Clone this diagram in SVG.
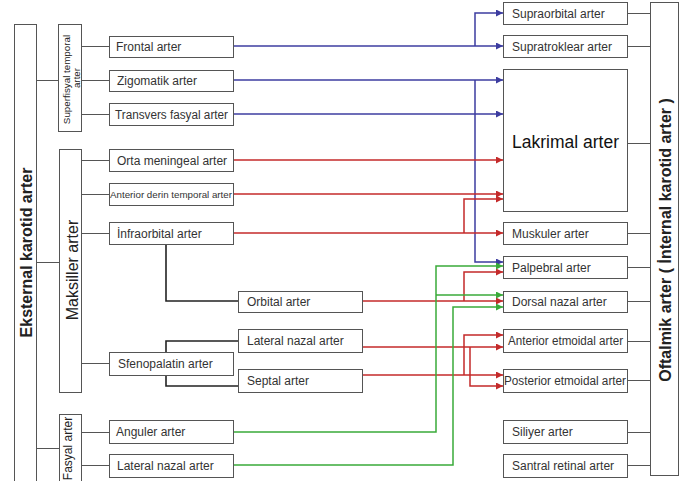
<svg xmlns="http://www.w3.org/2000/svg" width="694" height="481" viewBox="0 0 694 481">
<style>
.b{fill:#fff;stroke:#555;stroke-width:1}
.t{font-family:"Liberation Sans",Arial,sans-serif;font-size:12px;fill:#333}
.v{font-family:"Liberation Sans",Arial,sans-serif;fill:#222}
.g{fill:none;stroke:#555;stroke-width:1}
.k{fill:none;stroke:#222;stroke-width:1.6}
.bl{fill:none;stroke:#3c3ca0;stroke-width:1.5}
.rd{fill:none;stroke:#c42a2a;stroke-width:1.5}
.gr{fill:none;stroke:#3aaa3a;stroke-width:1.5}
</style>
<defs>
<marker id="ab" markerUnits="userSpaceOnUse" markerWidth="7" markerHeight="7" refX="7" refY="3.5" orient="auto"><path d="M0,0L7,3.5L0,7z" fill="#3c3ca0"/></marker>
<marker id="ar" markerUnits="userSpaceOnUse" markerWidth="7" markerHeight="7" refX="7" refY="3.5" orient="auto"><path d="M0,0L7,3.5L0,7z" fill="#c42a2a"/></marker>
<marker id="ag" markerUnits="userSpaceOnUse" markerWidth="7" markerHeight="7" refX="7" refY="3.5" orient="auto"><path d="M0,0L7,3.5L0,7z" fill="#3aaa3a"/></marker>
</defs>
<rect width="694" height="481" fill="#fff"/>
<g id="connectors">
<path class="g" d="M36,80.5H58M36,262.5H59M36,448.5H59M81,46.5H109M81,80.5H109M81,114.5H109M81,160.5H109M81,194.5H109M81,233.5H109M81,363.5H109M81,432.5H109M81,465.5H109"/>
<path class="g" d="M627,13.5H650M627,46.5H650M627,143.5H650M627,233.5H650M627,267.5H650M627,301.5H650M627,341.5H650M627,380.5H650M627,432.5H650M627,465.5H650"/>
<path class="k" d="M166,244V301H238M238,341H166V386H238"/>
<path class="bl" d="M233,46H503" marker-end="url(#ab)"/>
<path class="bl" d="M475,46V13H503" marker-end="url(#ab)"/>
<path class="bl" d="M233,80H503" marker-end="url(#ab)"/>
<path class="bl" d="M233,114H503" marker-end="url(#ab)"/>
<path class="bl" d="M475,80V262H503" marker-end="url(#ab)"/>
<path class="rd" d="M233,160H503" marker-end="url(#ar)"/>
<path class="rd" d="M233,194H503" marker-end="url(#ar)"/>
<path class="rd" d="M233,233H503" marker-end="url(#ar)"/>
<path class="rd" d="M464,233V199H503" marker-end="url(#ar)"/>
<path class="rd" d="M362,301H503" marker-end="url(#ar)"/>
<path class="rd" d="M464,301V272H503" marker-end="url(#ar)"/>
<path class="rd" d="M362,347H503" marker-end="url(#ar)"/>
<path class="rd" d="M470,347V386H503" marker-end="url(#ar)"/>
<path class="rd" d="M362,375H503" marker-end="url(#ar)"/>
<path class="rd" d="M464,375V335H503" marker-end="url(#ar)"/>
<path class="gr" d="M233,432H436V266H503" marker-end="url(#ag)"/>
<path class="gr" d="M436,295H503" marker-end="url(#ag)"/>
<path class="gr" d="M233,465H453V307H503" marker-end="url(#ag)"/>
</g>
<g id="eksternal"><rect class="b" x="14.5" y="24.5" width="22" height="470"/><text class="v" font-weight="bold" font-size="16" text-anchor="middle" transform="translate(31.5,252.5) rotate(-90)">Eksternal karotid arter</text></g>
<g id="superfisyal"><rect class="b" x="58.5" y="24.5" width="23" height="107"/><text class="v" font-size="9.8" text-anchor="middle" transform="translate(69.5,79.5) rotate(-90)">Superfisyal temporal</text><text class="v" font-size="9.8" text-anchor="middle" transform="translate(80,78) rotate(-90)">arter</text></g>
<g id="maksiller"><rect class="b" x="59.5" y="149.5" width="22" height="243"/><text class="v" font-size="16" text-anchor="middle" transform="translate(77.5,270) rotate(-90)">Maksiller arter</text></g>
<g id="fasyal"><rect class="b" x="59.5" y="414.5" width="22" height="80"/><text class="v" font-size="12" text-anchor="middle" transform="translate(72,448.5) rotate(-90)">Fasyal arter</text></g>
<g id="oftalmik"><rect class="b" x="650.5" y="2.5" width="28" height="473"/><text class="v" font-weight="bold" font-size="16" text-anchor="middle" transform="translate(671,240) rotate(-90)">Oftalmik arter ( İnternal karotid arter )</text></g>
<g id="frontal"><rect class="b" x="109.5" y="36.5" width="124" height="21"/><text class="t" x="116" y="51">Frontal arter</text></g>
<g id="zigomatik"><rect class="b" x="109.5" y="70.5" width="124" height="21"/><text class="t" x="117" y="85">Zigomatik arter</text></g>
<g id="transvers"><rect class="b" x="109.5" y="103.5" width="124" height="22"/><text class="t" x="115" y="119" textLength="113" lengthAdjust="spacingAndGlyphs">Transvers fasyal arter</text></g>
<g id="orta"><rect class="b" x="109.5" y="149.5" width="124" height="22"/><text class="t" x="117" y="165">Orta meningeal arter</text></g>
<g id="anteriorderin"><rect class="b" x="109.5" y="183.5" width="124" height="22"/><text class="t" x="110" y="198" style="font-size:9.8px" textLength="122" lengthAdjust="spacingAndGlyphs">Anterior derin temporal arter</text></g>
<g id="infraorbital"><rect class="b" x="109.5" y="222.5" width="124" height="22"/><text class="t" x="117" y="238">İnfraorbital arter</text></g>
<g id="sfenopalatin"><rect class="b" x="109.5" y="352.5" width="124" height="23"/><text class="t" x="118" y="368">Sfenopalatin arter</text></g>
<g id="anguler"><rect class="b" x="109.5" y="420.5" width="124" height="23"/><text class="t" x="116" y="436">Anguler arter</text></g>
<g id="lateralnazal1"><rect class="b" x="109.5" y="454.5" width="124" height="23"/><text class="t" x="117" y="470">Lateral nazal arter</text></g>
<g id="orbital"><rect class="b" x="238.5" y="291.5" width="124" height="21"/><text class="t" x="247" y="306">Orbital arter</text></g>
<g id="lateralnazal2"><rect class="b" x="238.5" y="329.5" width="124" height="23"/><text class="t" x="247" y="345">Lateral nazal arter</text></g>
<g id="septal"><rect class="b" x="238.5" y="369.5" width="124" height="23"/><text class="t" x="247" y="385">Septal arter</text></g>
<g id="supraorbital"><rect class="b" x="503.5" y="2.5" width="124" height="22"/><text class="t" x="512" y="18">Supraorbital arter</text></g>
<g id="supratroklear"><rect class="b" x="503.5" y="35.5" width="124" height="22"/><text class="t" x="512" y="51">Supratroklear arter</text></g>
<g id="lakrimal"><rect class="b" x="503.5" y="69.5" width="124" height="142"/><text class="t" x="512" y="148" style="font-size:17.5px;fill:#111">Lakrimal arter</text></g>
<g id="muskuler"><rect class="b" x="503.5" y="222.5" width="124" height="22"/><text class="t" x="512" y="238">Muskuler arter</text></g>
<g id="palpebral"><rect class="b" x="503.5" y="256.5" width="124" height="22"/><text class="t" x="512" y="272">Palpebral arter</text></g>
<g id="dorsalnazal"><rect class="b" x="503.5" y="291.5" width="124" height="21"/><text class="t" x="512" y="306">Dorsal nazal arter</text></g>
<g id="anterioretmoidal"><rect class="b" x="503.5" y="329.5" width="124" height="23"/><text class="t" x="508" y="345" textLength="115" lengthAdjust="spacingAndGlyphs">Anterior etmoidal arter</text></g>
<g id="posterioretmoidal"><rect class="b" x="503.5" y="369.5" width="124" height="23"/><text class="t" x="504" y="385" textLength="122" lengthAdjust="spacingAndGlyphs">Posterior etmoidal arter</text></g>
<g id="siliyer"><rect class="b" x="503.5" y="420.5" width="124" height="23"/><text class="t" x="512" y="436">Siliyer arter</text></g>
<g id="santral"><rect class="b" x="503.5" y="454.5" width="124" height="23"/><text class="t" x="512" y="470">Santral retinal arter</text></g>
</svg>
